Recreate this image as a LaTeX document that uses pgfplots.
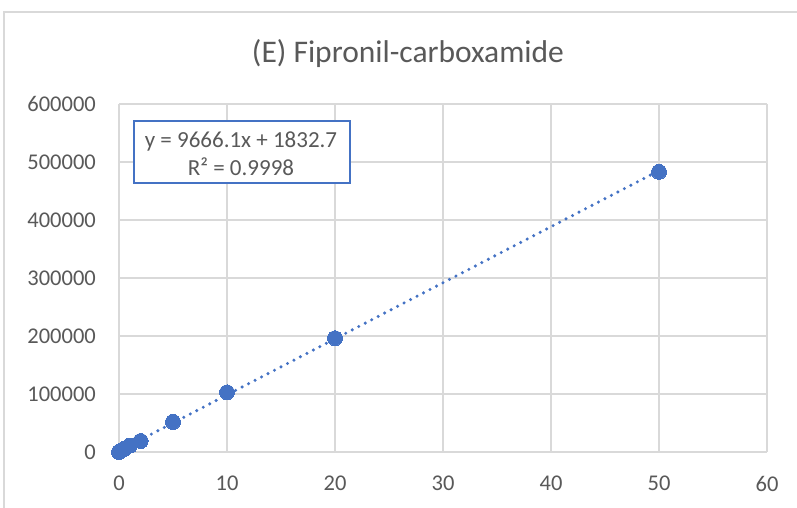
\documentclass[border=0pt]{standalone}
\usepackage{fontspec}
\setmainfont{Carlito}
\usepackage{pgfplots}
\pgfplotsset{compat=1.18}
\definecolor{xblue}{HTML}{4472C4}
\definecolor{xgrid}{HTML}{D9D9D9}
\definecolor{xtext}{HTML}{595959}
\begin{document}
\begin{tikzpicture}
\useasboundingbox (0pt,0pt) rectangle (797pt,-507pt);
\clip (0pt,0pt) rectangle (797pt,-507pt);
\fill[white] (0pt,0pt) rectangle (797pt,-507pt);
\draw[xgrid, line width=1.5pt] (4pt,-12pt) rectangle (900pt,-600pt);
\node[anchor=base, font=\fontsize{31.5}{38}\selectfont, text=xtext] at (408pt,-62pt) {(E) Fipronil-carboxamide};
\begin{axis}[
  at={(119pt,-452pt)}, anchor=south west,
  scale only axis, width=648pt, height=348pt,
  xmin=0, xmax=60, ymin=0, ymax=600000,
  xtick={0,10,20,30,40,50,60},
  ytick={0,100000,200000,300000,400000,500000,600000},
  grid=major, grid style={xgrid, line width=1.5pt},
  axis line style={draw=none},
  major tick length=0pt,
  /pgf/number format/assume math mode=true,
  tick label style={font=\fontsize{22.5}{27}\selectfont, text=xtext, inner sep=0pt},
  scaled y ticks=false,
  yticklabel style={/pgf/number format/fixed, /pgf/number format/1000 sep={}, xshift=-23pt},
  xticklabel style={yshift=-24pt},
  clip=false,
]
\addplot[xblue, line width=3.4pt, line cap=round, dash pattern=on 0pt off 7.3pt, no marks]
  coordinates {(0,1832.7) (50,485137.7)};
\addplot[only marks, mark=*, mark size=7.5pt, mark options={fill=xblue, draw=xblue, line width=0pt}]
  coordinates {(0,0) (0.05,600) (0.1,1200) (0.2,2300) (0.5,5500) (1,11000) (2,19000) (5,51900) (10,102800) (20,196200) (50,483000)};
\end{axis}
\draw[xblue, line width=1.5pt, fill=white] (134pt,-121pt) rectangle (350pt,-183pt);
\node[anchor=base, font=\fontsize{23}{28}\selectfont, text=xtext, inner sep=0pt] at (241pt,-147pt) {y = 9666.1x + 1832.7};
\node[anchor=base, font=\fontsize{23}{28}\selectfont, text=xtext, inner sep=0pt] at (241pt,-175pt) {R² = 0.9998};
\end{tikzpicture}
\end{document}
